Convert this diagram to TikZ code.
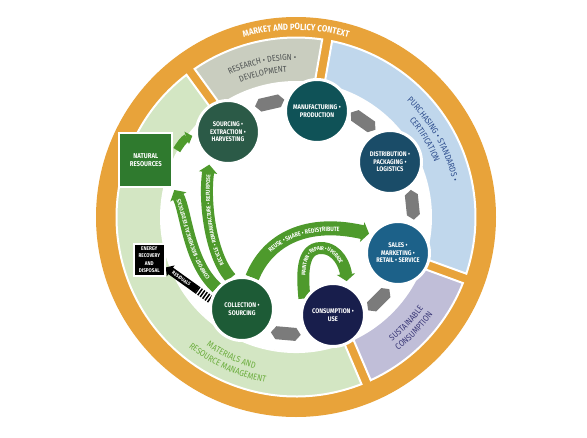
\documentclass[tikz,border=0pt]{standalone}
\usepackage{fontspec}
\setmainfont{Fira Sans}[FakeStretch=0.86]
\usetikzlibrary{decorations.text,arrows.meta}
\pgfdeclarelayer{back}\pgfdeclarelayer{mid}\pgfsetlayers{back,mid,main}
\definecolor{orng}{HTML}{E8A33A}
\definecolor{sgreen}{HTML}{D3E6C3}
\definecolor{sgrey}{HTML}{C9CDBF}
\definecolor{sblue}{HTML}{C0D7EC}
\definecolor{spurp}{HTML}{C0BED8}
\definecolor{tgrey}{HTML}{4E5252}
\definecolor{tblue}{HTML}{2C4C8C}
\definecolor{tpurp}{HTML}{3A3877}
\definecolor{tgreen}{HTML}{6BAD3D}
\definecolor{cSourc}{HTML}{2B5A47}
\definecolor{cManuf}{HTML}{0F5257}
\definecolor{cDistr}{HTML}{1A4C68}
\definecolor{cSales}{HTML}{1C6189}
\definecolor{cConsu}{HTML}{181E4C}
\definecolor{cColle}{HTML}{1D5B36}
\definecolor{natg}{HTML}{2F7A2E}
\definecolor{bandg}{HTML}{4E9A2C}
\definecolor{hexg}{HTML}{7B7B7B}
% radius, start, end, size, colour, series, text
\newcommand\arctxt[7]{\path[shift={(C)}, decorate, decoration={text along path, text align=center, text color=#5, text={|#6\fontsize{#4}{#4}\selectfont|#7}}] (#2:#1) arc[start angle=#2, end angle=#3, radius=#1];}
\begin{document}
\begin{tikzpicture}[x=1pt,y=1pt,
  lc/.style={circle, draw=white, line width=3pt, minimum size=63pt, inner sep=0pt, text=white, align=center, font=\bfseries\fontsize{6.7}{7.6}\selectfont},
  gband/.style={draw=bandg, line width=#1},
  btxt/.style 2 args={decorate, decoration={text along path, text align=center, raise=-2.1pt, text color=white, text={|\bfseries\fontsize{#1}{#1}\selectfont|#2}}},
  ghex/.pic={\fill[hexg] (-15,0) -- (-10,6.5) -- (10,6.5) -- (15,0) -- (10,-6.5) -- (-10,-6.5) -- cycle;}]
\useasboundingbox (0,0) rectangle (587,-437);
\coordinate (C) at (296,-217);
\begin{pgfonlayer}{back}
\fill[white] (0,0) rectangle (587,-437);
\fill[orng] (C) circle[radius=200];
\fill[white] (C) circle[radius=134.5];
\foreach \a/\b/\c in {126/293/sgreen, 80/126/sgrey, -20/80/sblue, -67/-20/spurp}
  \filldraw[fill=\c, draw=white, line width=2pt, shift={(C)}] ({\a+2.1}:135) -- ({\a+1.6}:179.5) arc[start angle={\a+1.6}, end angle={\b-1.6}, radius=179.5] -- ({\b-2.1}:135) arc[start angle={\b-2.1}, end angle={\a+2.1}, radius=135] -- cycle;
\arctxt{187}{130}{50}{9}{white}{\bfseries}{MARKET AND POLICY CONTEXT}
\arctxt{157}{143}{62}{8.5}{tgrey}{\mdseries}{RESEARCH • DESIGN •}
\arctxt{145.5}{144}{62}{8.5}{tgrey}{\mdseries}{DEVELOPMENT}
\arctxt{160.5}{72}{-13}{8.7}{tblue}{\mdseries}{PURCHASING • STANDARDS •}
\arctxt{149}{73}{-11}{8.7}{tblue}{\mdseries}{CERTIFICATION}
\arctxt{157}{-86}{-2}{8.7}{tpurp}{\mdseries}{SUSTAINABLE}
\arctxt{168}{-86}{-2}{8.7}{tpurp}{\mdseries}{CONSUMPTION}
\arctxt{157}{-158}{-72}{8.8}{tgreen}{\mdseries}{MATERIALS AND}
\arctxt{168.5}{-158}{-72}{8.8}{tgreen}{\mdseries}{RESOURCE MANAGEMENT}
\foreach \t in {103,55,6,-45,-95}
  \path[shift={(C)}] (\t:117) pic[rotate={\t-90}] {ghex};
\end{pgfonlayer}
% nodes
\node[lc, fill=cSourc] (sourc) at (228,-132) {SOURCING •\\EXTRACTION •\\HARVESTING};
\node[lc, fill=cManuf] (manuf) at (317,-111) {MANUFACTURING •\\PRODUCTION};
\node[lc, fill=cDistr] (distr) at (390,-162) {DISTRIBUTION •\\PACKAGING •\\LOGISTICS};
\node[lc, fill=cSales] (sales) at (398,-253) {SALES •\\MARKETING •\\RETAIL • SERVICE};
\node[lc, fill=cConsu] (consu) at (333,-315) {CONSUMPTION •\\USE};
\node[lc, fill=cColle] (colle) at (242,-309) {COLLECTION •\\SOURCING};
\node[draw=white, line width=2pt, fill=natg, minimum width=53pt, minimum height=54.5pt, text=white, align=center, font=\bfseries\fontsize{7}{8.7}\selectfont] (natres) at (145.8,-160) {NATURAL\\RESOURCES};
\node[draw=white, line width=2pt, fill=black, minimum width=31pt, minimum height=32pt, inner sep=1pt, text=white, align=center, font=\bfseries\fontsize{5.4}{7.2}\selectfont] (energy) at (149.3,-259.7) {ENERGY\\RECOVERY\\AND\\DISPOSAL};
\coordinate (mapex) at (321,-248);
\begin{pgfonlayer}{mid}
% compost
\draw[gband=12pt, -{Triangle[width=18pt,length=8pt]}, shorten >=2pt] (colle.140) .. controls (188,-262) and (186,-210) .. (natres.south east);
\path[btxt={5.7}{COMPOST • BIOCHEMICAL FEEDSTOCKS}] (colle.140) .. controls (188,-262) and (186,-210) .. (natres.south east);
% recycle
\draw[gband=12pt, -{Triangle[width=18pt,length=8pt]}, shorten >=5pt] (colle.110) .. controls (210,-255) and (204,-200) .. (sourc.237);
\path[btxt={5.7}{RECYCLE • REMANUFACTURE • REPURPOSE}] (colle.110) .. controls (210,-255) and (204,-200) .. (sourc.237);
% natural resources to sourcing
\draw[gband=8pt, -{Triangle[width=13pt,length=6pt]}, shorten <=7pt, shorten >=3pt] (natres.8) to[out=60,in=200] (sourc.185);
% reuse
\draw[gband=14pt, -{Triangle[width=20pt,length=7pt]}, shorten >=2pt] (colle.72) .. controls (265,-245) and (300,-218) .. (sales.145);
\path[btxt={6.3}{REUSE • SHARE • REDISTRIBUTE}] (colle.72) .. controls (265,-245) and (300,-218) .. (sales.145);
% maintain
\draw[gband=12pt, -{Triangle[width=18pt,length=7pt]}, shorten >=4pt] (consu.150) to[out=95,in=180] (mapex) to[out=0,in=95] (consu.65);
\path[btxt={5.5}{MAINTAIN • REPAIR • UPGRADE}] (consu.150) to[out=95,in=180] (mapex) to[out=0,in=95] (consu.65);
% residuals
\path (colle.163) -- coordinate[pos=0.3] (rmid) (energy.-25);
\draw[line width=8pt, dash pattern=on 1.5pt off 1.5pt] (colle.163) -- (rmid);
\draw[line width=8pt, -{Triangle[width=13pt,length=6pt]}] (rmid) -- (energy.-25);
\path[decorate, decoration={text along path, text align=center, raise=-1.8pt, text color=white, text={|\bfseries\fontsize{5}{5}\selectfont|RESIDUALS}}] (energy.-25) -- (rmid);
\end{pgfonlayer}
\end{tikzpicture}
\end{document}
